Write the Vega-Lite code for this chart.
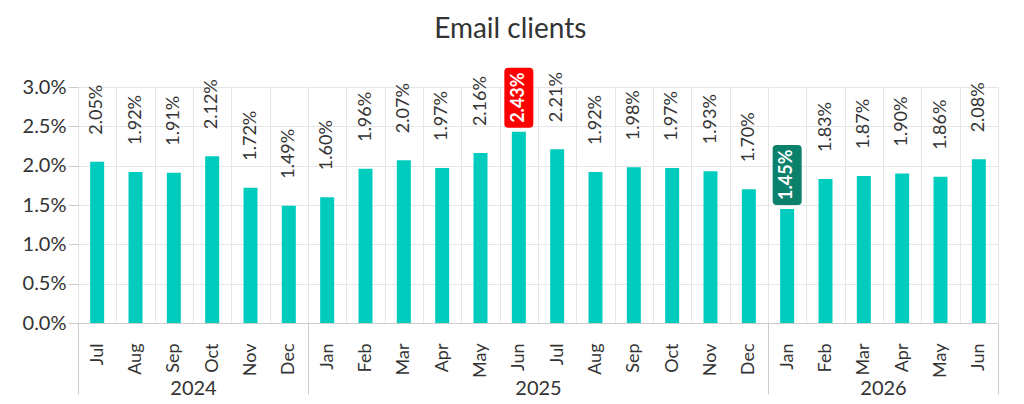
{
  "$schema": "https://vega.github.io/schema/vega-lite/v6.json",
  "description": "Monthly share of email clients, Jul 2024 to Jun 2026, with the highest and lowest months marked.",
  "padding": {"left": 22, "top": 15, "right": 24, "bottom": 4},
  "background": "white",
  "bounds": "flush",
  "spacing": 0,
  "title": {
    "text": "Email clients",
    "font": "Lato",
    "fontSize": 28,
    "fontWeight": "normal",
    "color": "#333333",
    "anchor": "middle",
    "frame": "bounds",
    "offset": 24
  },
  "data": {
    "values": [
      {"year": "2024", "month": "Jul", "share": 0.0205},
      {"year": "2024", "month": "Aug", "share": 0.0192},
      {"year": "2024", "month": "Sep", "share": 0.0191},
      {"year": "2024", "month": "Oct", "share": 0.0212},
      {"year": "2024", "month": "Nov", "share": 0.0172},
      {"year": "2024", "month": "Dec", "share": 0.0149},
      {"year": "2025", "month": "Jan", "share": 0.0160},
      {"year": "2025", "month": "Feb", "share": 0.0196},
      {"year": "2025", "month": "Mar", "share": 0.0207},
      {"year": "2025", "month": "Apr", "share": 0.0197},
      {"year": "2025", "month": "May", "share": 0.0216},
      {"year": "2025", "month": "Jun", "share": 0.0243, "flag": "max"},
      {"year": "2025", "month": "Jul", "share": 0.0221},
      {"year": "2025", "month": "Aug", "share": 0.0192},
      {"year": "2025", "month": "Sep", "share": 0.0198},
      {"year": "2025", "month": "Oct", "share": 0.0197},
      {"year": "2025", "month": "Nov", "share": 0.0193},
      {"year": "2025", "month": "Dec", "share": 0.0170},
      {"year": "2026", "month": "Jan", "share": 0.0145, "flag": "min"},
      {"year": "2026", "month": "Feb", "share": 0.0183},
      {"year": "2026", "month": "Mar", "share": 0.0187},
      {"year": "2026", "month": "Apr", "share": 0.0190},
      {"year": "2026", "month": "May", "share": 0.0186},
      {"year": "2026", "month": "Jun", "share": 0.0208}
    ]
  },
  "hconcat": [
    {
      "width": 230,
      "height": 236,
      "transform": [{"filter": "datum.year == '2024'"}],
      "encoding": {
        "x": {
          "field": "month",
          "type": "nominal",
          "sort": null,
          "scale": {"paddingInner": 0, "paddingOuter": 0},
          "axis": {
            "title": "2024",
            "titleY": 71,
            "titleBaseline": "alphabetic",
            "tickBand": "extent",
            "tickSize": 71,
            "tickOpacity": {"condition": {"test": "datum.extra", "value": 1}, "value": 0},
            "labelPadding": -51,
            "labelAngle": 270,
            "grid": true
          }
        },
        "y": {
          "field": "share",
          "type": "quantitative",
          "scale": {"domain": [0, 0.03]},
          "axis": {
            "title": null,
            "format": ".1%",
            "values": [0, 0.005, 0.01, 0.015, 0.02, 0.025, 0.03],
            "labelFontSize": 20,
            "tickSize": 10,
            "labelPadding": 2,
            "domain": false
          }
        }
      },
      "layer": [
        {"mark": {"type": "bar", "color": "#00ccbe", "width": {"band": 0.365}}},
        {
          "transform": [{"filter": "!datum.flag"}],
          "mark": {"type": "text", "angle": 270, "align": "left", "baseline": "middle", "dx": 27, "fontSize": 18, "color": "#333333"},
          "encoding": {"text": {"field": "share", "format": ".2%"}}
        }
      ]
    },
    {
      "width": 460,
      "height": 236,
      "transform": [{"filter": "datum.year == '2025'"}],
      "encoding": {
        "x": {
          "field": "month",
          "type": "nominal",
          "sort": null,
          "scale": {"paddingInner": 0, "paddingOuter": 0},
          "axis": {
            "title": "2025",
            "titleY": 71,
            "titleBaseline": "alphabetic",
            "tickBand": "extent",
            "tickSize": 71,
            "tickOpacity": {"condition": {"test": "datum.extra", "value": 1}, "value": 0},
            "labelPadding": -51,
            "labelAngle": 270,
            "grid": true
          }
        },
        "y": {
          "field": "share",
          "type": "quantitative",
          "scale": {"domain": [0, 0.03]},
          "axis": {
            "title": null,
            "values": [0, 0.005, 0.01, 0.015, 0.02, 0.025, 0.03],
            "labels": false,
            "ticks": false,
            "domain": false
          }
        }
      },
      "layer": [
        {"mark": {"type": "bar", "color": "#00ccbe", "width": {"band": 0.365}}},
        {
          "transform": [{"filter": "!datum.flag"}],
          "mark": {"type": "text", "angle": 270, "align": "left", "baseline": "middle", "dx": 27, "fontSize": 18, "color": "#333333"},
          "encoding": {"text": {"field": "share", "format": ".2%"}}
        },
        {
          "transform": [{"filter": "datum.flag"}],
          "mark": {
            "type": "point",
            "shape": "M-10.5,-4H10.5Q14.5,-4,14.5,-8V-60Q14.5,-64,10.5,-64H-10.5Q-14.5,-64,-14.5,-60V-8Q-14.5,-4,-10.5,-4Z",
            "size": 4,
            "filled": true,
            "opacity": 1,
            "strokeWidth": 0
          },
          "encoding": {
            "color": {"field": "flag", "type": "nominal", "scale": {"domain": ["max", "min"], "range": ["#ff0000", "#0b806b"]}, "legend": null}
          }
        },
        {
          "transform": [{"filter": "datum.flag"}],
          "mark": {"type": "text", "angle": 270, "align": "left", "baseline": "middle", "dx": 9, "fontSize": 18, "fontWeight": "bold", "color": "white"},
          "encoding": {"text": {"field": "share", "format": ".2%"}}
        }
      ]
    },
    {
      "width": 230,
      "height": 236,
      "transform": [{"filter": "datum.year == '2026'"}],
      "encoding": {
        "x": {
          "field": "month",
          "type": "nominal",
          "sort": null,
          "scale": {"paddingInner": 0, "paddingOuter": 0},
          "axis": {
            "title": "2026",
            "titleY": 71,
            "titleBaseline": "alphabetic",
            "tickBand": "extent",
            "tickSize": 71,
            "tickOpacity": {"condition": {"test": "datum.extra || datum.value == 'Jun'", "value": 1}, "value": 0},
            "labelPadding": -51,
            "labelAngle": 270,
            "grid": true
          }
        },
        "y": {
          "field": "share",
          "type": "quantitative",
          "scale": {"domain": [0, 0.03]},
          "axis": {
            "title": null,
            "values": [0, 0.005, 0.01, 0.015, 0.02, 0.025, 0.03],
            "labels": false,
            "ticks": false,
            "domain": false
          }
        }
      },
      "layer": [
        {"mark": {"type": "bar", "color": "#00ccbe", "width": {"band": 0.365}}},
        {
          "transform": [{"filter": "!datum.flag"}],
          "mark": {"type": "text", "angle": 270, "align": "left", "baseline": "middle", "dx": 27, "fontSize": 18, "color": "#333333"},
          "encoding": {"text": {"field": "share", "format": ".2%"}}
        },
        {
          "transform": [{"filter": "datum.flag"}],
          "mark": {
            "type": "point",
            "shape": "M-10.5,-4H10.5Q14.5,-4,14.5,-8V-60Q14.5,-64,10.5,-64H-10.5Q-14.5,-64,-14.5,-60V-8Q-14.5,-4,-10.5,-4Z",
            "size": 4,
            "filled": true,
            "opacity": 1,
            "strokeWidth": 0
          },
          "encoding": {
            "color": {"field": "flag", "type": "nominal", "scale": {"domain": ["max", "min"], "range": ["#ff0000", "#0b806b"]}, "legend": null}
          }
        },
        {
          "transform": [{"filter": "datum.flag"}],
          "mark": {"type": "text", "angle": 270, "align": "left", "baseline": "middle", "dx": 9, "fontSize": 18, "fontWeight": "bold", "color": "white"},
          "encoding": {"text": {"field": "share", "format": ".2%"}}
        }
      ]
    }
  ],
  "config": {
    "font": "Lato",
    "view": {"stroke": null},
    "axis": {
      "labelFont": "Lato",
      "labelColor": "#333333",
      "labelFontSize": 18,
      "titleFont": "Lato",
      "titleFontSize": 20,
      "titleFontWeight": "normal",
      "titleColor": "#333333",
      "gridColor": "#e6e6e6",
      "domainColor": "#cccccc",
      "tickColor": "#cccccc"
    }
  }
}
